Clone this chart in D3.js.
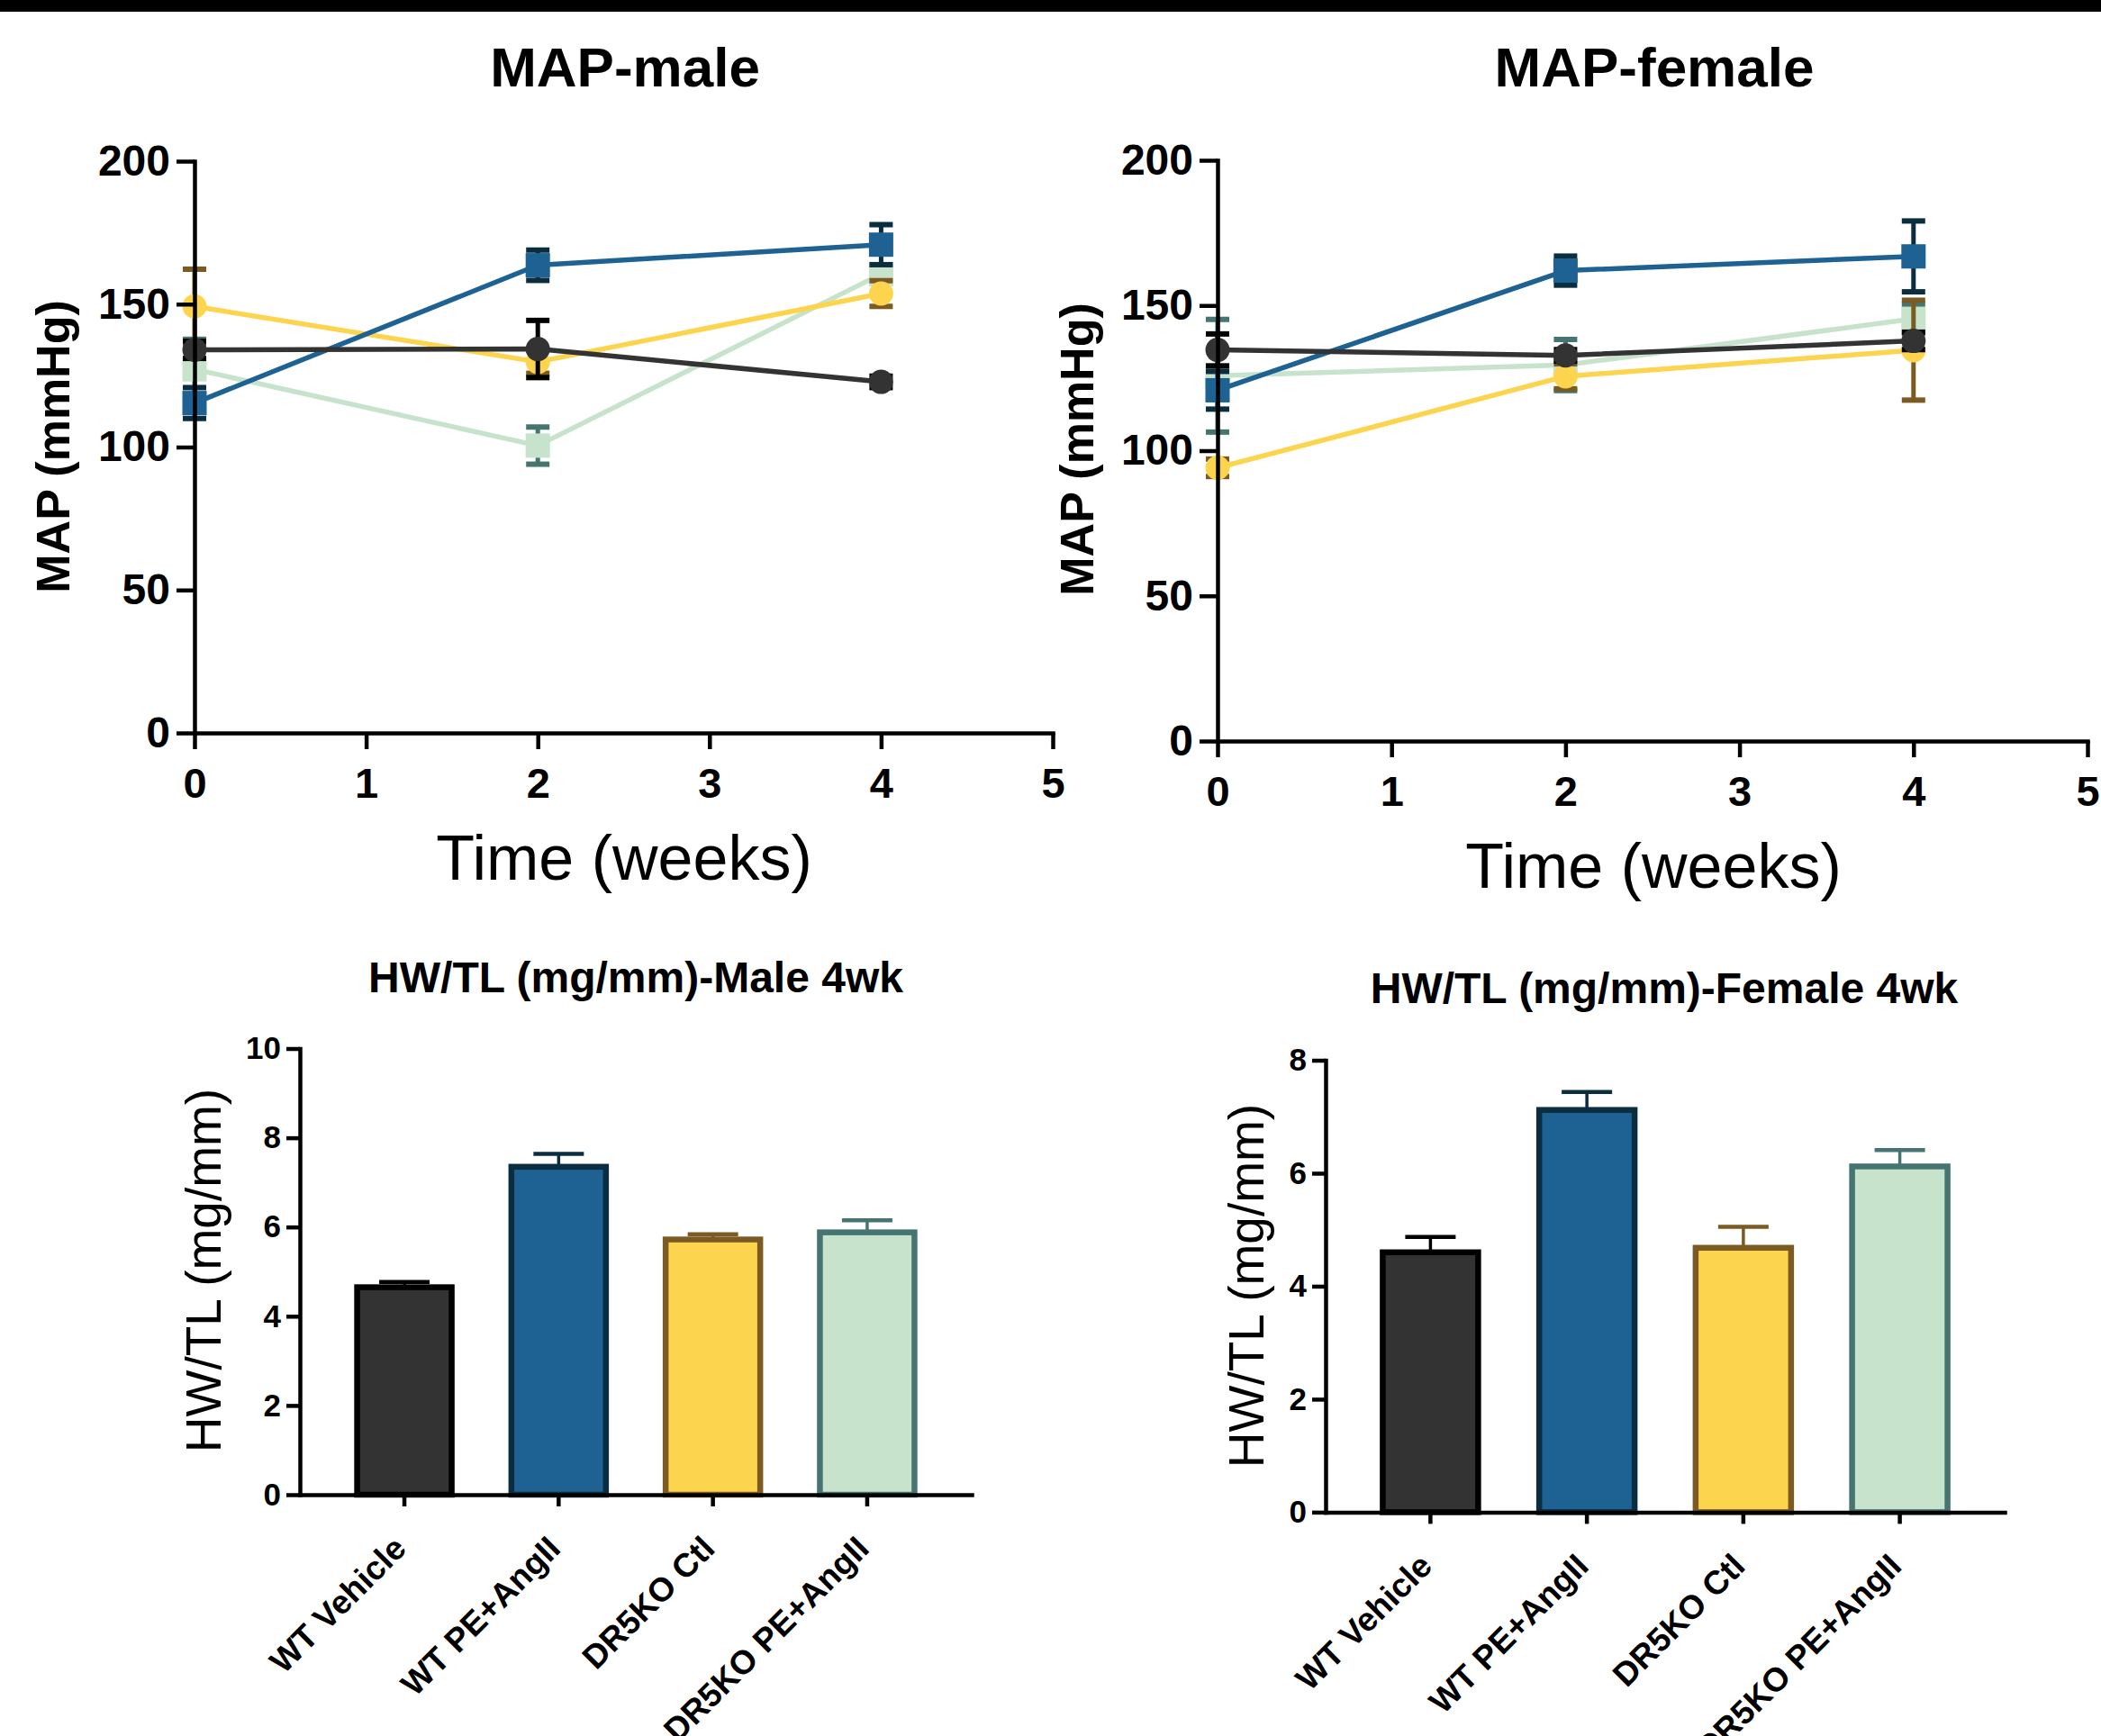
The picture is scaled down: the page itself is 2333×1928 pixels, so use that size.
<!DOCTYPE html>
<html><head><meta charset="utf-8">
<script src="https://cdn.jsdelivr.net/npm/d3@7"></script>
<style>body{margin:0;background:#fff}svg{display:block}text{font-family:"Liberation Sans",Arial,Helvetica,sans-serif}</style>
</head><body>
<script>
// ---------- data ----------
const timeWeeks = [0, 2, 4];
const mapXTicks = [0, 1, 2, 3, 4, 5];
const mapYTicks = [0, 50, 100, 150, 200];
const groupNames = ["WT Vehicle", "WT PE+AngII", "DR5KO Ctl", "DR5KO PE+AngII"];

// MAP male (mmHg), mean and SEM at weeks 0, 2, 4
const maleWTVehicle = [134.0, 134.3, 122.8];
const maleWTVehicleSem = [3, 10, 2];
const maleWTPE = [115.4, 163.6, 170.8];
const maleWTPESem = [5.4, 5.3, 7];
const maleKOCtl = [149.2, 129.8, 153.7];
const maleKOCtlSem = [13, 4, 4.5];
const maleKOPE = [127.2, 100.5, 160.5];
const maleKOPESem = [10.5, 6.5, 3];

// MAP female (mmHg)
const femaleWTVehicle = [134.7, 132.8, 137.8];
const femaleWTVehicleSem = [5.5, 2, 3];
const femaleWTPE = [120.8, 162.0, 166.9];
const femaleWTPESem = [6.5, 5, 12.2];
const femaleKOCtl = [94.1, 125.6, 134.6];
const femaleKOCtlSem = [3, 4.3, 17.2];
const femaleKOPE = [125.8, 129.5, 145.4];
const femaleKOPESem = [19.4, 8.8, 5];

// HW/TL (mg/mm) at 4 weeks
const hwMaleMean = [4.65, 7.35, 5.72, 5.88];
const hwMaleSem = [0.12, 0.29, 0.12, 0.27];
const hwFemaleMean = [4.60, 7.12, 4.68, 6.12];
const hwFemaleSem = [0.27, 0.32, 0.37, 0.29];
const hwMaleTicks = [0, 2, 4, 6, 8, 10];
const hwFemaleTicks = [0, 2, 4, 6, 8];

// ---------- styles ----------
const fillColors = ["#333333", "#1d6292", "#fdd44e", "#c7e3cb"];
const edgeColors = ["#000000", "#0a2d40", "#7b5b22", "#467571"];
const markerShapes = ["circle", "square", "circle", "square"];
const FONT = '"Liberation Sans", Arial, Helvetica, sans-serif';

const W = 2333, H = 1928;
const svg = d3.select("body").append("svg").attr("width", W).attr("height", H)
  .attr("viewBox", `0 0 ${W} ${H}`);
svg.append("rect").attr("x", 0).attr("y", 0).attr("width", W).attr("height", H).attr("fill", "#fff");
svg.append("rect").attr("x", 0).attr("y", 0).attr("width", W).attr("height", 13).attr("fill", "#000");

function styleAxis(a, fs, sw) {
  a.attr("font-family", FONT);
  a.select(".domain").attr("stroke", "#000").attr("stroke-width", sw).attr("stroke-linecap", "square");
  a.selectAll(".tick line").attr("stroke", "#000").attr("stroke-width", sw);
  a.selectAll(".tick text").attr("font-size", fs).attr("font-weight", "bold").attr("fill", "#000");
}

function drawMap(p) {
  const x = d3.scaleLinear().domain([0, 5]).range([p.left, p.right]);
  const y = d3.scaleLinear().domain([0, 200]).range([p.bottom, p.top]);
  const g = svg.append("g");

  // series (back to front)
  const order = [3, 2, 1, 0];
  order.forEach(k => {
    const means = p.means[k], sems = p.sems[k];
    const sg = g.append("g");
    const line = d3.line().x((d, i) => x(timeWeeks[i])).y(d => y(d));
    sg.append("path").datum(means).attr("d", line).attr("fill", "none")
      .attr("stroke", fillColors[k]).attr("stroke-width", 5.5).attr("stroke-linejoin", "round");
    means.forEach((m, i) => {
      const cx = x(timeWeeks[i]);
      const yt = y(m + sems[i]), yb = y(m - sems[i]);
      sg.append("line").attr("x1", cx).attr("x2", cx).attr("y1", yt).attr("y2", yb)
        .attr("stroke", edgeColors[k]).attr("stroke-width", 5);
      [yt, yb].forEach(yy => sg.append("line").attr("x1", cx - 13).attr("x2", cx + 13)
        .attr("y1", yy).attr("y2", yy).attr("stroke", edgeColors[k]).attr("stroke-width", 6));
    });
    means.forEach((m, i) => {
      const cx = x(timeWeeks[i]), cy = y(m);
      if (markerShapes[k] === "circle") {
        sg.append("circle").attr("cx", cx).attr("cy", cy).attr("r", 13.5).attr("fill", fillColors[k]);
      } else {
        sg.append("rect").attr("x", cx - 13.5).attr("y", cy - 13.5).attr("width", 27).attr("height", 27).attr("fill", fillColors[k]);
      }
    });
  });

  const xa = g.append("g").attr("transform", `translate(0,${p.bottom})`)
    .call(d3.axisBottom(x).tickValues(mapXTicks).tickFormat(d3.format("d")).tickSize(18).tickPadding(21).tickSizeOuter(0));
  const ya = g.append("g").attr("transform", `translate(${p.left},0)`)
    .call(d3.axisLeft(y).tickValues(mapYTicks).tickFormat(d3.format("d")).tickSize(20).tickPadding(7).tickSizeOuter(0));
  styleAxis(xa, 47, 4.5);
  styleAxis(ya, 48, 4.5);

  g.append("text").attr("x", p.titleX).attr("y", p.titleY).attr("text-anchor", "middle")
    .attr("font-size", 62).attr("font-weight", "bold").text(p.title);
  g.append("text").attr("x", p.xlabX).attr("y", p.xlabY).attr("text-anchor", "middle")
    .attr("font-size", 70).text("Time (weeks)");
  g.append("text").attr("transform", `translate(${p.ylabX},${p.ylabY}) rotate(-90)`)
    .attr("text-anchor", "middle").attr("dy", "0.36em")
    .attr("font-size", 52).attr("font-weight", "bold").text("MAP (mmHg)");
}

function drawBars(p) {
  const x = d3.scaleBand().domain(groupNames).range([p.left, p.right])
    .paddingInner(p.pi).paddingOuter(p.po);
  const y = d3.scaleLinear().domain([0, p.ymax]).range([p.bottom, p.top]);
  const g = svg.append("g");

  groupNames.forEach((name, k) => {
    const m = p.means[k], s = p.sems[k];
    const cx = x(name) + x.bandwidth() / 2;
    g.append("line").attr("x1", cx).attr("x2", cx).attr("y1", y(m)).attr("y2", y(m + s))
      .attr("stroke", edgeColors[k]).attr("stroke-width", 3.5);
    g.append("line").attr("x1", cx - 28).attr("x2", cx + 28).attr("y1", y(m + s)).attr("y2", y(m + s))
      .attr("stroke", edgeColors[k]).attr("stroke-width", 4.5);
    g.append("rect").attr("x", x(name)).attr("y", y(m)).attr("width", x.bandwidth())
      .attr("height", y(0) - y(m)).attr("fill", fillColors[k])
      .attr("stroke", edgeColors[k]).attr("stroke-width", 6.5);
  });

  const xa = g.append("g").attr("transform", `translate(0,${p.bottom})`)
    .call(d3.axisBottom(x).tickSize(13).tickSizeOuter(0));
  const ya = g.append("g").attr("transform", `translate(${p.left},0)`)
    .call(d3.axisLeft(y).tickValues(p.ticks).tickFormat(d3.format("d")).tickSize(15).tickPadding(6).tickSizeOuter(0));
  styleAxis(xa, 37, 4.5);
  styleAxis(ya, 35, 4.5);
  xa.selectAll(".tick text").attr("x", 0).attr("y", 0).attr("dy", 0)
    .attr("text-anchor", "end").attr("transform", "translate(4,62) rotate(-45)");

  g.append("text").attr("x", p.titleX).attr("y", p.titleY).attr("text-anchor", "middle")
    .attr("font-size", 48).attr("font-weight", "bold").text(p.title);
  g.append("text").attr("transform", `translate(${p.ylabX},${p.ylabY}) rotate(-90)`)
    .attr("text-anchor", "middle").attr("dy", "0.36em")
    .attr("font-size", 55).text("HW/TL (mg/mm)");
}

drawMap({
  title: "MAP-male", left: 216, right: 1169, top: 179, bottom: 814,
  titleX: 694, titleY: 96, xlabX: 693, xlabY: 977, ylabX: 58, ylabY: 496,
  means: [maleWTVehicle, maleWTPE, maleKOCtl, maleKOPE],
  sems: [maleWTVehicleSem, maleWTPESem, maleKOCtlSem, maleKOPESem]
});
drawMap({
  title: "MAP-female", left: 1352, right: 2318, top: 178, bottom: 823,
  titleX: 1837, titleY: 96, xlabX: 1836, xlabY: 986, ylabX: 1195, ylabY: 499,
  means: [femaleWTVehicle, femaleWTPE, femaleKOCtl, femaleKOPE],
  sems: [femaleWTVehicleSem, femaleWTPESem, femaleKOCtlSem, femaleKOPESem]
});
drawBars({
  title: "HW/TL (mg/mm)-Male 4wk", left: 333, right: 1079, top: 1164.5, bottom: 1660,
  ymax: 10, ticks: hwMaleTicks, pi: 0.387, po: 0.371,
  titleX: 706, titleY: 1102, ylabX: 225, ylabY: 1411,
  means: hwMaleMean, sems: hwMaleSem
});
drawBars({
  title: "HW/TL (mg/mm)-Female 4wk", left: 1472, right: 2226, top: 1177.5, bottom: 1679.4,
  ymax: 8, ticks: hwFemaleTicks, pi: 0.39, po: 0.365,
  titleX: 1848, titleY: 1114, ylabX: 1383, ylabY: 1428,
  means: hwFemaleMean, sems: hwFemaleSem
});
</script>
</body></html>
